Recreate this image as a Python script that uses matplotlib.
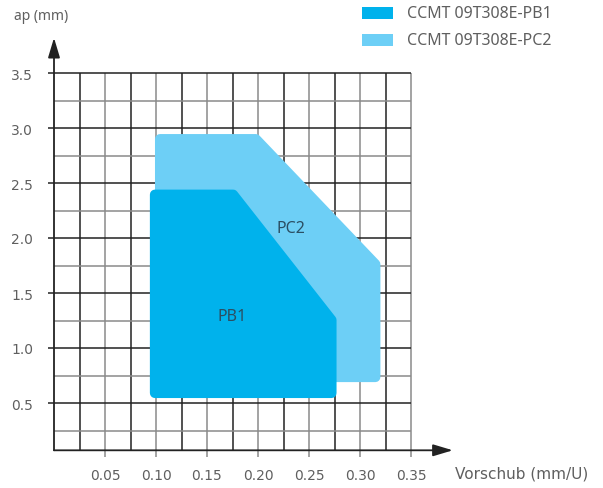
import numpy as np
import matplotlib
matplotlib.use("Agg")
import matplotlib.pyplot as plt
from matplotlib.patches import Polygon, Rectangle

# --- DATA ---
pb1_x = [0.094, 0.178, 0.277, 0.277, 0.094]
pb1_y = [2.44, 2.44, 1.27, 0.545, 0.545]
pc2_x = [0.099, 0.200, 0.320, 0.320, 0.099]
pc2_y = [2.945, 2.945, 1.78, 0.69, 0.69]
series_names = ["CCMT 09T308E-PB1", "CCMT 09T308E-PC2"]
series_tags = ["PB1", "PC2"]
tag_pos = [(0.175, 1.29), (0.232, 2.09)]
x_ticks = [0.05, 0.10, 0.15, 0.20, 0.25, 0.30, 0.35]
y_ticks = [0.5, 1.0, 1.5, 2.0, 2.5, 3.0, 3.5]

# --- STYLE ---
C_PB1 = "#00b2ec"
C_PC2 = "#6dcff6"
DARK = "#222222"
GRAY = "#8a8a8a"
TXT = "#5f5f5f"
W, H = 603, 489
XMIN, XMAX = 0.0, 0.395
YMIN, YMAX = 0.07, 3.85
CORNER_PX = 5.0  # corner rounding radius in pixels

fig = plt.figure(figsize=(W / 100, H / 100), dpi=100)
left_px, right_px = 54, 54 + (XMAX - XMIN) * 1020
bot_px, top_px = 459 - YMIN * 110, 459 - YMAX * 110
ax = fig.add_axes([left_px / W, 1 - bot_px / H, (right_px - left_px) / W, (bot_px - top_px) / H])
ax.set_xlim(XMIN, XMAX)
ax.set_ylim(YMIN, YMAX)
for s in ax.spines.values():
    s.set_visible(False)


def inset(xs, ys, d):
    # shrink a convex polygon by d pixels (display space), back to data coords
    pts = ax.transData.transform(np.column_stack([xs, ys]))
    n = len(pts)
    area = 0.5 * sum(pts[i, 0] * pts[(i + 1) % n, 1] - pts[(i + 1) % n, 0] * pts[i, 1] for i in range(n))
    sign = 1 if area > 0 else -1
    lines = []
    for i in range(n):
        p, q = pts[i], pts[(i + 1) % n]
        t = (q - p) / np.hypot(*(q - p))
        nrm = sign * np.array([-t[1], t[0]])
        lines.append((p + nrm * d, t))
    out = []
    for i in range(n):
        (p1, t1), (p2, t2) = lines[i - 1], lines[i]
        A = np.array([t1, -t2]).T
        s = np.linalg.solve(A, p2 - p1)
        out.append(p1 + s[0] * t1)
    return ax.transData.inverted().transform(np.array(out))


# grid
for i in range(1, 15):
    xv = i * 0.025
    ax.vlines(xv, YMIN, 3.5, color=GRAY if i % 2 == 0 else DARK, lw=1.1, zorder=1)
for i in range(1, 15):
    yv = i * 0.25
    ax.hlines(yv, XMIN, 0.35, color=DARK if i % 2 == 0 else GRAY, lw=1.1, zorder=1)

# axes with arrows
arrow_kw = dict(arrowstyle="-|>,head_length=0.6,head_width=0.18",
                mutation_scale=20, color=DARK, lw=1.3, shrinkA=0, shrinkB=0)
ax.annotate("", xy=(XMIN, 3.82), xytext=(XMIN, YMIN), arrowprops=arrow_kw,
            annotation_clip=False, zorder=3)
ax.annotate("", xy=(0.391, YMIN), xytext=(XMIN, YMIN), arrowprops=arrow_kw,
            annotation_clip=False, zorder=3)

# regions (rounded corners: inset polygon + round-joined edge of same colour)
lw_pt = 2 * CORNER_PX * 72 / 100
for xs, ys, col, z in [(pc2_x, pc2_y, C_PC2, 2), (pb1_x, pb1_y, C_PB1, 2.1)]:
    ax.add_patch(Polygon(inset(xs, ys, CORNER_PX), closed=True, facecolor=col,
                         edgecolor=col, lw=lw_pt, joinstyle="round", zorder=z))
for tag, (tx, ty) in zip(series_tags, tag_pos):
    ax.text(tx, ty, tag, fontsize=11.5, color="#2b4f63", ha="center", va="center",
            family="Noto Sans", zorder=4)

# ticks
ax.set_xticks(x_ticks)
ax.set_xticklabels([f"{v:.2f}" for v in x_ticks])
ax.set_yticks(y_ticks)
ax.set_yticklabels([f"{v:.1f}" for v in y_ticks])
ax.tick_params(axis="x", length=5, width=1.1, color=GRAY, pad=8, labelsize=10, labelcolor=TXT)
ax.tick_params(axis="y", length=4, width=1.1, color=DARK, pad=11, labelsize=10, labelcolor=TXT)

fig.text(14 / W, 1 - 16 / H, "ap (mm)", fontsize=10, color=TXT, va="center", ha="left",
         family="Noto Sans")
fig.text(455 / W, 1 - 474 / H, "Vorschub (mm/U)", fontsize=11, color=TXT, va="center", ha="left")

# legend
for k, (name, col) in enumerate(zip(series_names, [C_PB1, C_PC2])):
    yc = 14 + 27 * k
    fig.patches.append(Rectangle((362 / W, 1 - (yc + 6) / H), 31 / W, 12 / H,
                                 transform=fig.transFigure, facecolor=col, edgecolor="none"))
    fig.text(407 / W, 1 - yc / H, name, fontsize=11.5, color=TXT, va="center", ha="left",
             family="Noto Sans")

fig.savefig("out.png", dpi=100)
